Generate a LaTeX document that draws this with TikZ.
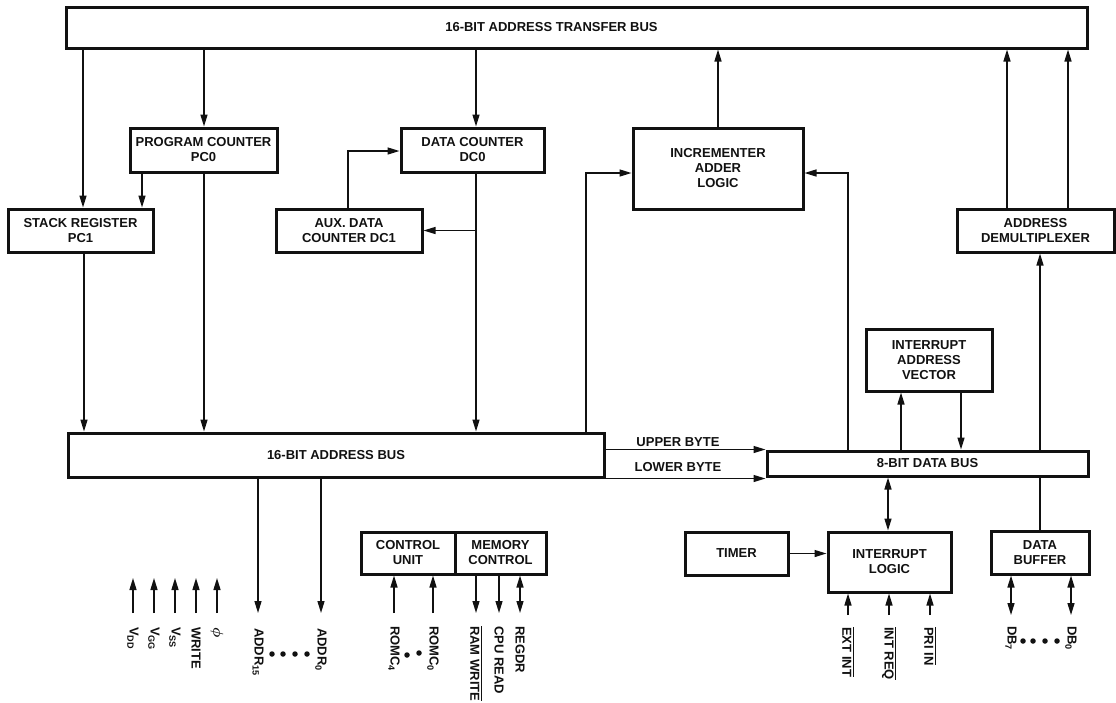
\documentclass[tikz,border=0pt]{standalone}
\usepackage{fontspec}
\setmainfont{Liberation Sans}
\usepackage{amsmath}
\usepackage{xcolor}
\usepackage{tikz}
\usetikzlibrary{positioning, arrows.meta, calc}
\definecolor{f8ink}{HTML}{111111}

\begin{document}
\begin{tikzpicture}[
  x=1pt, y=-1pt,
  font=\fontsize{13}{15}\selectfont\bfseries,
  unit/.style={draw=f8ink, line width=3pt, align=center, inner sep=0pt, text=f8ink},
  arrow/.style={-{Triangle[length=12pt,width=7pt]}, line width=1.4pt, draw=f8ink},
  biarrow/.style={{Triangle[length=12pt,width=7pt]}-{Triangle[length=12pt,width=7pt]}, line width=1.4pt, draw=f8ink},
  wire/.style={line width=1.4pt, draw=f8ink},
  pinlabel/.style={rotate=-90, anchor=west, inner sep=0pt, text=f8ink},
  dot/.style={circle, fill=f8ink, inner sep=0pt, minimum size=5.5pt},
]
\useasboundingbox (0,0) rectangle (1116,702);

% buses
\node[unit, minimum width=1021pt, minimum height=41pt,
      label={[xshift=-25pt, text=f8ink]center:16-BIT ADDRESS TRANSFER BUS}]
  (atb) at (576.5,27.5) {};
\node[unit, minimum width=536pt, minimum height=44pt] (ab) at (336,455) {16-BIT ADDRESS BUS};
\node[unit, minimum width=321pt, minimum height=25pt] (db) at (927.5,463.5) {8-BIT DATA BUS};

% registers and logic
\node[unit, minimum width=147pt, minimum height=44pt] (pc) at (203.5,150) {PROGRAM COUNTER\\PC0};
\node[unit, minimum width=145pt, minimum height=43pt] (stk) at (80.5,230.5) {STACK REGISTER\\PC1};
\node[unit, minimum width=143pt, minimum height=44pt] (dc) at (472.5,150) {DATA COUNTER\\DC0};
\node[unit, minimum width=146pt, minimum height=43pt] (aux) at (349,230.5) {AUX. DATA\\COUNTER DC1};
\node[unit, minimum width=170pt, minimum height=81pt] (inc) at (718,168.5) {INCREMENTER\\ADDER\\LOGIC};
\node[unit, minimum width=157pt, minimum height=43pt] (demux) at (1035.5,230.5) {ADDRESS\\DEMULTIPLEXER};
\node[unit, minimum width=126pt, minimum height=62pt] (iav) at (929,360) {INTERRUPT\\ADDRESS\\VECTOR};
\node[unit, minimum width=94pt, minimum height=42pt] (cu) at (408,553) {CONTROL\\UNIT};
\node[unit, minimum width=91pt, minimum height=42pt] (mc) at (500.5,553) {MEMORY\\CONTROL};
\node[unit, minimum width=103pt, minimum height=43pt] (timer) at (736.5,553.5) {TIMER};
\node[unit, minimum width=123pt, minimum height=60pt] (il) at (889.5,562) {INTERRUPT\\LOGIC};
\node[unit, minimum width=98pt, minimum height=43pt] (dbuf) at (1040,552.5) {DATA\\BUFFER};

% transfer bus links
\draw[arrow] (83,0 |- atb.south) -- (83,0 |- stk.north);
\draw[arrow] (204,0 |- atb.south) -- (204,0 |- pc.north);
\draw[arrow] (476,0 |- atb.south) -- (476,0 |- dc.north);
\draw[arrow] (inc.north) -- (inc.north |- atb.south);
\draw[arrow] (1007,0 |- demux.north) -- (1007,0 |- atb.south);
\draw[arrow] (1068,0 |- demux.north) -- (1068,0 |- atb.south);

% counters to address bus
\draw[arrow] (142,0 |- pc.south) -- (142,0 |- stk.north);
\draw[arrow] (204,0 |- pc.south) -- (204,0 |- ab.north);
\draw[arrow] (84,0 |- stk.south) -- (84,0 |- ab.north);
\draw[arrow] (476,0 |- dc.south) -- (476,0 |- ab.north);
\draw[arrow] (aux.east -| 476,0) -- (aux.east);
\draw[arrow] (348,0 |- aux.north) |- (dc.west |- 0,151);

% incrementer feeds
\draw[arrow] (586,0 |- ab.north) |- (inc.west |- 0,173);
\draw[arrow] (848,0 |- db.north) |- (inc.east |- 0,173);

% data bus links
\draw[arrow] (1040,0 |- db.north) -- (1040,0 |- demux.south);
\draw[arrow] (901,0 |- db.north) -- (901,0 |- iav.south);
\draw[arrow] (961,0 |- iav.south) -- (961,0 |- db.north);
\draw[biarrow] (888,0 |- db.south) -- (888,0 |- il.north);
\draw[arrow] (timer.east) -- (timer.east -| il.west);
\draw[wire] (1040,0 |- db.south) -- (dbuf.north);

% address bus to data bus
\draw[arrow] (ab.east |- db.north west) -- (db.north west);
\draw[arrow] (ab.south east) -- (ab.south east -| db.west);
\node[text=f8ink] (ubyte) at (678,442) {UPPER BYTE};
\node[text=f8ink] (lbyte) at (678,467) {LOWER BYTE};

% power and clock pins
\foreach \px/\ptxt in {133/V\textsubscript{DD}, 154/V\textsubscript{GG}, 175/V\textsubscript{SS}, 196/WRITE, 217/{\fontsize{15}{15}\selectfont$\boldsymbol{\phi}$}}{
  \node[pinlabel] (pin\px) at (\px,627) {\ptxt};
  \draw[arrow] ([yshift=14pt]pin\px.west) -- ++(0,-35);
}

% address pins
\node[pinlabel] (addr15) at (258,628) {ADDR\textsubscript{15}};
\node[pinlabel] (addr0) at (321,628) {ADDR\textsubscript{0}};
\draw[arrow] (258,0 |- ab.south) -- ([yshift=15pt]addr15.west);
\draw[arrow] (321,0 |- ab.south) -- ([yshift=15pt]addr0.west);
\foreach \dx in {272,283,295,307}
  \node[dot] at (\dx,654) {};

% control pins
\node[pinlabel] (romc4) at (394,626) {ROMC\textsubscript{4}};
\node[pinlabel] (romc0) at (433,626) {ROMC\textsubscript{0}};
\draw[arrow] ([yshift=13pt]romc4.west) -- (romc4.west |- cu.south);
\draw[arrow] ([yshift=13pt]romc0.west) -- (romc0.west |- cu.south);
\node[dot] at (407,655) {};
\node[dot] at (419,653) {};

\node[pinlabel] (ramw) at (476,626) {$\overline{\mbox{RAM WRITE}}$};
\node[pinlabel] (cpur) at (499,626) {CPU READ};
\node[pinlabel] (regdr) at (520,626) {REGDR};
\draw[arrow] (ramw.west |- mc.south) -- ([yshift=13pt]ramw.west);
\draw[arrow] (cpur.west |- mc.south) -- ([yshift=13pt]cpur.west);
\draw[biarrow] (regdr.west |- mc.south) -- ([yshift=13pt]regdr.west);

% interrupt pins
\node[pinlabel] (extint) at (848,627) {$\overline{\mbox{EXT INT}}$};
\node[pinlabel] (intreq) at (889,627) {$\overline{\mbox{INT REQ}}$};
\node[pinlabel] (priin) at (930,627) {$\overline{\mbox{PRI IN}}$};
\foreach \ip in {extint, intreq, priin}
  \draw[arrow] ([yshift=12pt]\ip.west) -- (\ip.west |- il.south);

% data pins
\node[pinlabel] (db7) at (1011,626) {DB\textsubscript{7}};
\node[pinlabel] (db0) at (1071,626) {DB\textsubscript{0}};
\draw[biarrow] (db7.west |- dbuf.south) -- ([yshift=11pt]db7.west);
\draw[biarrow] (db0.west |- dbuf.south) -- ([yshift=11pt]db0.west);
\foreach \dx in {1023,1033,1045,1057}
  \node[dot] at (\dx,641) {};
\end{tikzpicture}
\end{document}
